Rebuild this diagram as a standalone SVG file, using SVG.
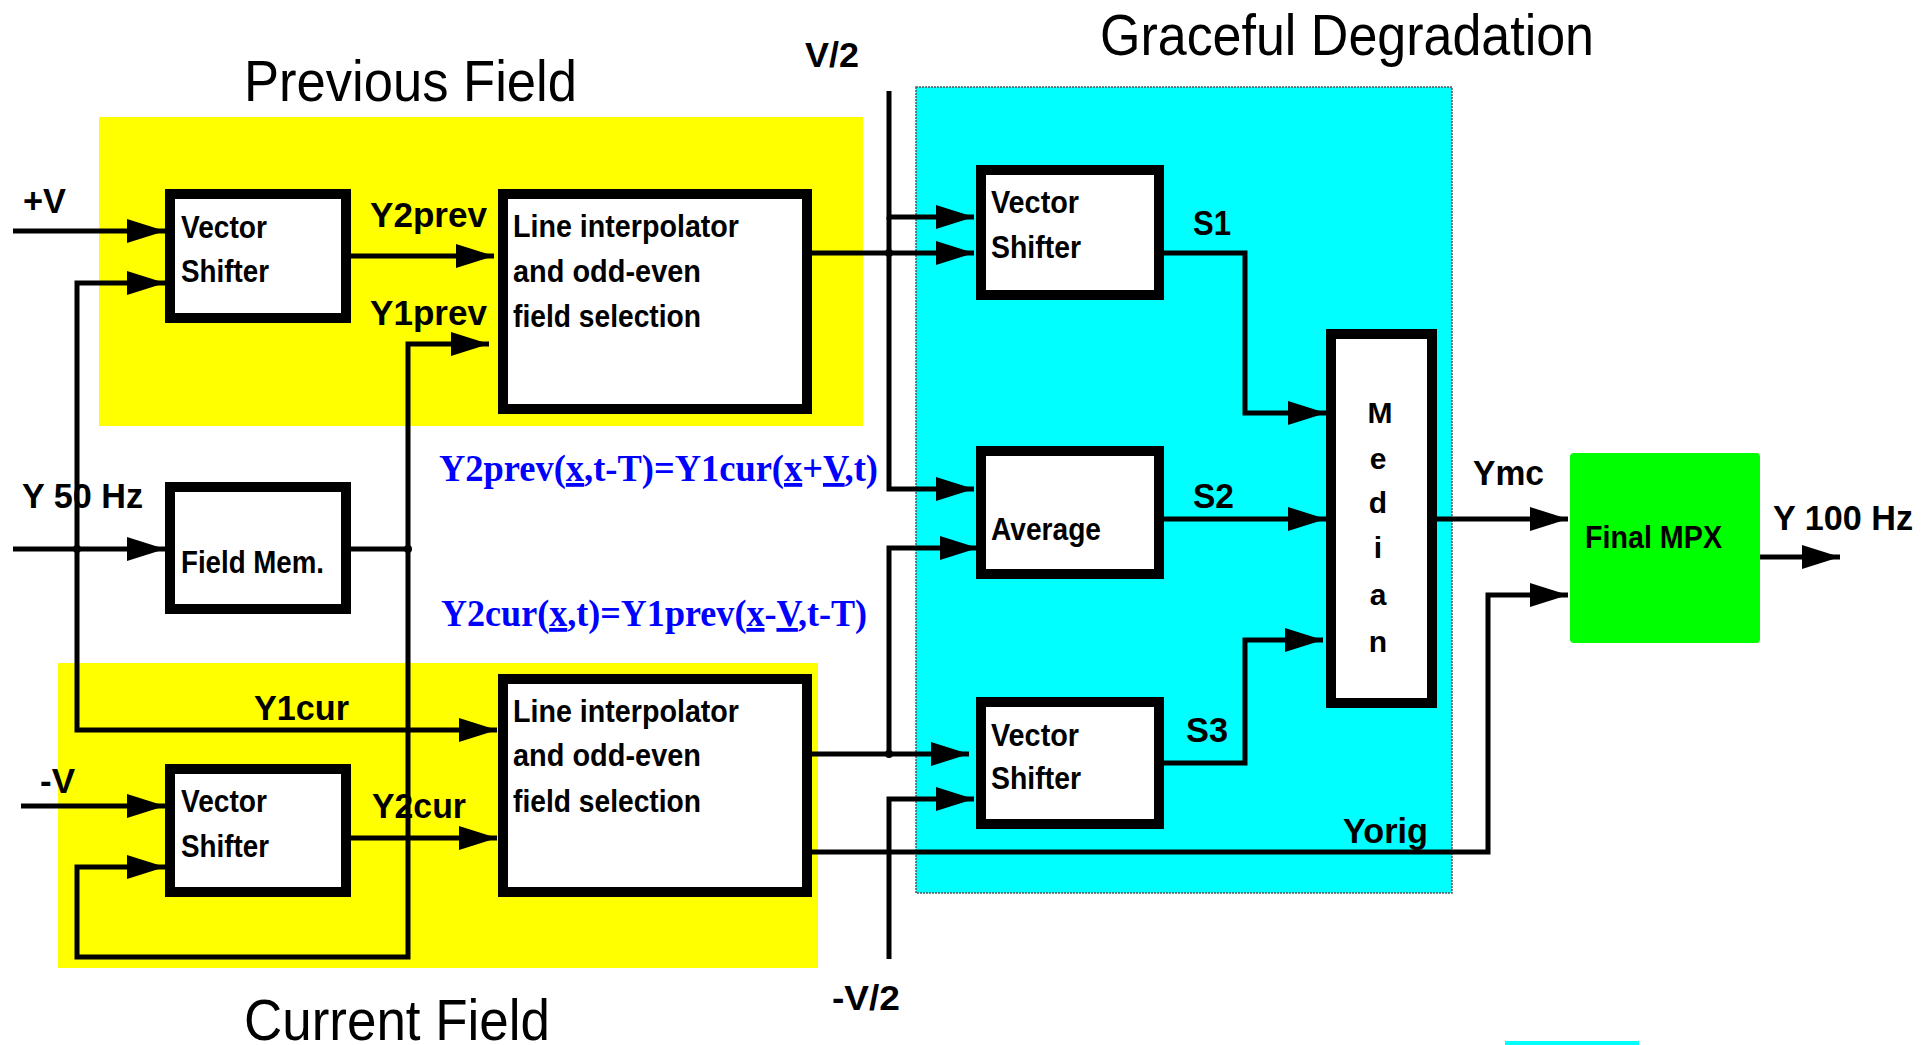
<svg xmlns="http://www.w3.org/2000/svg" width="1932" height="1045" viewBox="0 0 1932 1045">
<style>
.bg{stroke:none}
.box{fill:#fff;stroke:#000;stroke-width:10}
.ln{fill:none;stroke:#000;stroke-width:5;stroke-linejoin:miter}
.lbl{font-family:"Liberation Sans",Arial,sans-serif;font-weight:bold;font-size:32px;fill:#000}
.big{font-family:"Liberation Sans",Arial,sans-serif;font-size:57px;fill:#000}
.sig{font-family:"Liberation Sans",Arial,sans-serif;font-weight:bold;font-size:35px;fill:#000}
.eq{font-family:"Liberation Serif","Times New Roman",serif;font-weight:bold;font-size:38px;fill:#0000ff}
.u{text-decoration:underline}
.med{font-family:"Liberation Sans",Arial,sans-serif;font-weight:bold;font-size:30px;fill:#000;text-anchor:middle}
</style>
<defs>
<marker id="ah" markerUnits="userSpaceOnUse" markerWidth="40" markerHeight="26" refX="38" refY="12" orient="auto">
<path d="M0,0 L38,12 L0,24 z" fill="#000"/>
</marker>
</defs>
<g id="backgrounds">
<rect x="99" y="117" width="764" height="309" fill="#ffff00"/>
<rect x="58" y="663" width="760" height="305" fill="#ffff00"/>
<rect x="916" y="87" width="536" height="806" fill="#00ffff" stroke="#555" stroke-width="1.5" stroke-dasharray="2,1"/>
<rect x="1505" y="1041" width="134" height="4" fill="#00ffff"/>
</g>
<g id="titles">
<text class="big" x="244" y="101" textLength="333" lengthAdjust="spacingAndGlyphs">Previous Field</text>
<text class="big" x="1100" y="55" textLength="494" lengthAdjust="spacingAndGlyphs">Graceful Degradation</text>
<text class="big" x="244" y="1040" textLength="306" lengthAdjust="spacingAndGlyphs">Current Field</text>
</g>
<g id="connectors">
<path class="ln" d="M13,231 H165" marker-end="url(#ah)"/>
<path class="ln" d="M13,549 H165" marker-end="url(#ah)"/>
<path class="ln" d="M77,549 V283 H165" marker-end="url(#ah)"/>
<path class="ln" d="M77,549 V730 H497" marker-end="url(#ah)"/>
<path class="ln" d="M351,549 H408"/>
<path class="ln" d="M408,549 V344 H489" marker-end="url(#ah)"/>
<path class="ln" d="M408,549 V957 H77 V867 H165" marker-end="url(#ah)"/>
<path class="ln" d="M351,256 H494" marker-end="url(#ah)"/>
<path class="ln" d="M21,806 H165" marker-end="url(#ah)"/>
<path class="ln" d="M351,838 H497" marker-end="url(#ah)"/>
<path class="ln" d="M812,253 H974" marker-end="url(#ah)"/>
<path class="ln" d="M889,91 V217 H974" marker-end="url(#ah)"/>
<path class="ln" d="M889,217 V489 H974" marker-end="url(#ah)"/>
<path class="ln" d="M812,754 H969" marker-end="url(#ah)"/>
<path class="ln" d="M889,754 V548 H978" marker-end="url(#ah)"/>
<path class="ln" d="M889,959 V799 H974" marker-end="url(#ah)"/>
<path class="ln" d="M812,852 H1488 V595 H1568" marker-end="url(#ah)"/>
<path class="ln" d="M1164,253 H1245 V413 H1326" marker-end="url(#ah)"/>
<path class="ln" d="M1164,519 H1326" marker-end="url(#ah)"/>
<path class="ln" d="M1164,763 H1245 V640 H1323" marker-end="url(#ah)"/>
<path class="ln" d="M1437,519 H1568" marker-end="url(#ah)"/>
<path class="ln" d="M1760,557 H1840" marker-end="url(#ah)"/>
<circle cx="77" cy="549" r="4"/>
<circle cx="408" cy="549" r="4"/>
<circle cx="889" cy="253" r="4"/>
<circle cx="889" cy="754" r="4"/>
</g>
<g id="vs-prev">
<rect class="box" x="170" y="194" width="176" height="124"/>
<text class="lbl" x="181" y="238" textLength="86" lengthAdjust="spacingAndGlyphs">Vector</text>
<text class="lbl" x="181" y="282" textLength="88" lengthAdjust="spacingAndGlyphs">Shifter</text>
</g>
<g id="li-prev">
<rect class="box" x="503" y="194" width="304" height="215"/>
<text class="lbl" x="513" y="237" textLength="226" lengthAdjust="spacingAndGlyphs">Line interpolator</text>
<text class="lbl" x="513" y="282" textLength="188" lengthAdjust="spacingAndGlyphs">and odd-even</text>
<text class="lbl" x="513" y="327" textLength="188" lengthAdjust="spacingAndGlyphs">field selection</text>
</g>
<g id="field-mem">
<rect class="box" x="170" y="487" width="176" height="122"/>
<text class="lbl" x="181" y="573" textLength="143" lengthAdjust="spacingAndGlyphs">Field Mem.</text>
</g>
<g id="vs-cur">
<rect class="box" x="170" y="769" width="176" height="123"/>
<text class="lbl" x="181" y="812" textLength="86" lengthAdjust="spacingAndGlyphs">Vector</text>
<text class="lbl" x="181" y="857" textLength="88" lengthAdjust="spacingAndGlyphs">Shifter</text>
</g>
<g id="li-cur">
<rect class="box" x="503" y="679" width="304" height="213"/>
<text class="lbl" x="513" y="722" textLength="226" lengthAdjust="spacingAndGlyphs">Line interpolator</text>
<text class="lbl" x="513" y="766" textLength="188" lengthAdjust="spacingAndGlyphs">and odd-even</text>
<text class="lbl" x="513" y="812" textLength="188" lengthAdjust="spacingAndGlyphs">field selection</text>
</g>
<g id="gd-vs1">
<rect class="box" x="981" y="170" width="178" height="125"/>
<text class="lbl" x="991" y="213" textLength="88" lengthAdjust="spacingAndGlyphs">Vector</text>
<text class="lbl" x="991" y="258" textLength="90" lengthAdjust="spacingAndGlyphs">Shifter</text>
</g>
<g id="gd-avg">
<rect class="box" x="981" y="451" width="178" height="123"/>
<text class="lbl" x="991" y="540" textLength="110" lengthAdjust="spacingAndGlyphs">Average</text>
</g>
<g id="gd-vs3">
<rect class="box" x="981" y="702" width="178" height="122"/>
<text class="lbl" x="991" y="746" textLength="88" lengthAdjust="spacingAndGlyphs">Vector</text>
<text class="lbl" x="991" y="789" textLength="90" lengthAdjust="spacingAndGlyphs">Shifter</text>
</g>
<g id="median">
<rect class="box" x="1331" y="334" width="101" height="369"/>
<text class="med" x="1380" y="423">M</text>
<text class="med" x="1378" y="469">e</text>
<text class="med" x="1378" y="513">d</text>
<text class="med" x="1378" y="558">i</text>
<text class="med" x="1378" y="605">a</text>
<text class="med" x="1378" y="652">n</text>
</g>
<g id="final-mpx">
<rect x="1570" y="453" width="190" height="190" rx="4" fill="#00ff00"/>
<text class="lbl" x="1585" y="548" textLength="137" lengthAdjust="spacingAndGlyphs">Final MPX</text>
</g>
<g id="labels">
<text class="sig" x="805" y="67" textLength="54" lengthAdjust="spacingAndGlyphs">V/2</text>
<text class="sig" x="832" y="1010" textLength="68" lengthAdjust="spacingAndGlyphs">-V/2</text>
<text class="sig" x="23" y="213" textLength="43" lengthAdjust="spacingAndGlyphs">+V</text>
<text class="sig" x="40" y="793" textLength="35" lengthAdjust="spacingAndGlyphs">-V</text>
<text class="sig" x="22" y="508" textLength="121" lengthAdjust="spacingAndGlyphs">Y 50 Hz</text>
<text class="sig" x="370" y="227" textLength="117" lengthAdjust="spacingAndGlyphs">Y2prev</text>
<text class="sig" x="370" y="325" textLength="117" lengthAdjust="spacingAndGlyphs">Y1prev</text>
<text class="sig" x="254" y="720" textLength="95" lengthAdjust="spacingAndGlyphs">Y1cur</text>
<text class="sig" x="372" y="818" textLength="94" lengthAdjust="spacingAndGlyphs">Y2cur</text>
<text class="sig" x="1193" y="235" textLength="38" lengthAdjust="spacingAndGlyphs">S1</text>
<text class="sig" x="1193" y="508" textLength="41" lengthAdjust="spacingAndGlyphs">S2</text>
<text class="sig" x="1186" y="742" textLength="42" lengthAdjust="spacingAndGlyphs">S3</text>
<text class="sig" x="1343" y="843" textLength="85" lengthAdjust="spacingAndGlyphs">Yorig</text>
<text class="sig" x="1473" y="485" textLength="71" lengthAdjust="spacingAndGlyphs">Ymc</text>
<text class="sig" x="1773" y="530" textLength="140" lengthAdjust="spacingAndGlyphs">Y 100 Hz</text>
<text class="eq" x="439" y="481" textLength="439" lengthAdjust="spacingAndGlyphs">Y2prev(<tspan class="u">x</tspan>,t-T)=Y1cur(<tspan class="u">x</tspan>+<tspan class="u">V</tspan>,t)</text>
<text class="eq" x="441" y="626" textLength="426" lengthAdjust="spacingAndGlyphs">Y2cur(<tspan class="u">x</tspan>,t)=Y1prev(<tspan class="u">x</tspan>-<tspan class="u">V</tspan>,t-T)</text>
</g>
</svg>
